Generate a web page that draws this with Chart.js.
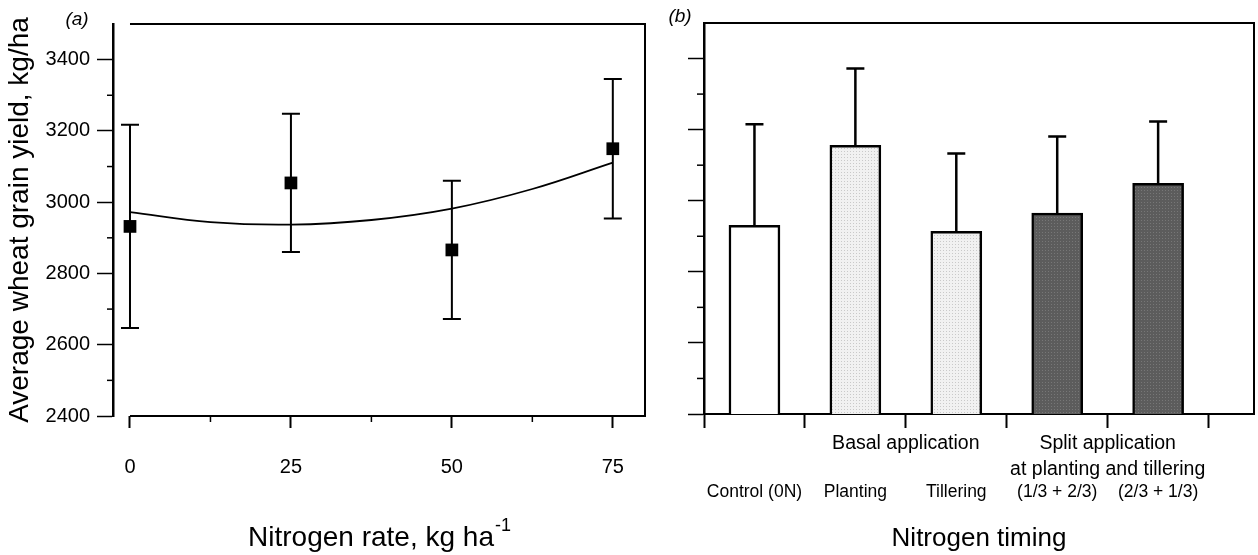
<!DOCTYPE html>
<html>
<head>
<meta charset="utf-8">
<script src="https://cdn.jsdelivr.net/npm/chart.js@4.4.0/dist/chart.umd.min.js"></script>
<style>
  html, body { margin: 0; padding: 0; background: #fff; }
  #wrap { position: relative; width: 1258px; height: 555px; }
  canvas { position: absolute; top: 0; }
  #rateChart { left: 0; }
  #timingChart { left: 660px; }
</style>
</head>
<body>
<div id="wrap">
  <canvas id="rateChart" width="660" height="555"></canvas>
  <canvas id="timingChart" width="598" height="555"></canvas>
</div>
<script>
// shared y axis
const yieldTicks = [2400, 2600, 2800, 3000, 3200, 3400];
const yieldMinorTicks = [2500, 2700, 2900, 3100, 3300];

// (a) grain yield vs nitrogen rate
const rates = [0, 25, 50, 75];
const rateYield = [2932, 3054, 2866, 3150];
const rateErr = [285, 194, 194, 196];
const fitRates = [0, 12.5, 25, 37.5, 50, 62.5, 75];
const fitYield = [2972, 2944, 2937, 2950, 2982, 3037, 3111];
const rateTicks = [0, 25, 50, 75];
const rateMinorTicks = [12.5, 37.5, 62.5];

// (b) grain yield vs nitrogen timing
const timingLabels = ['Control (0N)', 'Planting', 'Tillering', '(1/3 + 2/3)', '(2/3 + 1/3)'];
const timingYield = [2931, 3156, 2914, 2965, 3049];
const timingErr = [284, 216, 219, 216, 174];
const groupLabels = [['Basal application'], ['Split application', 'at planting and tillering']];
const groupCentres = [2.5, 4.5];

const FONT = "'Liberation Sans', Arial, Helvetica, sans-serif";
Chart.defaults.font.family = FONT;
Chart.defaults.color = '#000';

function drawMinorY(chart, len) {
  const { ctx, chartArea, scales: { y } } = chart;
  ctx.save();
  ctx.strokeStyle = '#000';
  ctx.lineWidth = 1.5;
  yieldMinorTicks.forEach(v => {
    const py = y.getPixelForValue(v);
    ctx.beginPath();
    ctx.moveTo(chartArea.left - len, py);
    ctx.lineTo(chartArea.left, py);
    ctx.stroke();
  });
  ctx.restore();
}

function dotPattern(bg, dot) {
  const c = document.createElement('canvas');
  c.width = 3; c.height = 3;
  const g = c.getContext('2d');
  g.fillStyle = bg; g.fillRect(0, 0, 3, 3);
  g.fillStyle = dot; g.fillRect(1, 1, 1, 1);
  return g.createPattern(c, 'repeat');
}

// keep tick-label padding from pushing the plot area in
function fixHeight(h) {
  return (s) => { s.height = h; s.paddingLeft = 0; s.paddingRight = 0; };
}

// ---------- panel (a) ----------
const rateExtras = {
  id: 'rateExtras',
  beforeDatasetsDraw(chart) {
    const { ctx, scales: { x, y } } = chart;
    ctx.save();
    ctx.strokeStyle = '#000';
    ctx.lineWidth = 2;
    rates.forEach((r, i) => {
      const px = x.getPixelForValue(r);
      const hi = y.getPixelForValue(rateYield[i] + rateErr[i]);
      const lo = y.getPixelForValue(rateYield[i] - rateErr[i]);
      ctx.beginPath();
      ctx.moveTo(px, hi); ctx.lineTo(px, lo);
      ctx.moveTo(px - 9, hi); ctx.lineTo(px + 9, hi);
      ctx.moveTo(px - 9, lo); ctx.lineTo(px + 9, lo);
      ctx.stroke();
    });
    ctx.restore();
  },
  afterDraw(chart) {
    const { ctx, chartArea: a, scales: { x } } = chart;
    const x0 = x.getPixelForValue(0);
    ctx.save();
    ctx.strokeStyle = '#000';
    ctx.lineWidth = 2;
    ctx.beginPath();
    ctx.moveTo(x0, a.top); ctx.lineTo(a.right, a.top);
    ctx.lineTo(a.right, a.bottom); ctx.lineTo(x0, a.bottom);
    ctx.stroke();
    ctx.lineWidth = 1.5;
    rateMinorTicks.forEach(v => {
      const px = x.getPixelForValue(v);
      ctx.beginPath(); ctx.moveTo(px, a.bottom); ctx.lineTo(px, a.bottom + 6); ctx.stroke();
    });
    ctx.restore();
    drawMinorY(chart, 6);

    ctx.save();
    ctx.fillStyle = '#000';
    ctx.textBaseline = 'middle';
    ctx.textAlign = 'left';
    const main = 'Nitrogen rate, kg ha';
    const sup = '-1';
    ctx.font = '28px ' + FONT;
    const w1 = ctx.measureText(main).width;
    ctx.font = '18px ' + FONT;
    const w2 = ctx.measureText(sup).width;
    const start = (a.left + a.right) / 2 - (w1 + w2) / 2;
    ctx.font = '28px ' + FONT;
    ctx.fillText(main, start, 538);
    ctx.font = '18px ' + FONT;
    ctx.fillText(sup, start + w1 + 1, 526);
    ctx.font = 'italic 19px ' + FONT;
    ctx.textAlign = 'center';
    ctx.fillText('(a)', 77, 20);
    ctx.restore();
  }
};

new Chart(document.getElementById('rateChart').getContext('2d'), {
  type: 'scatter',
  data: {
    datasets: [
      {
        data: fitRates.map((r, i) => ({ x: r, y: fitYield[i] })),
        showLine: true,
        borderColor: '#000',
        borderWidth: 1.8,
        pointRadius: 0,
        tension: 0.4
      },
      {
        data: rates.map((r, i) => ({ x: r, y: rateYield[i] })),
        pointStyle: 'rect',
        pointRadius: 9,
        backgroundColor: '#000',
        borderWidth: 0
      }
    ]
  },
  options: {
    responsive: false,
    animation: false,
    events: [],
    layout: { padding: { top: 24, right: 15, bottom: 0, left: 0 } },
    plugins: { legend: { display: false }, tooltip: { enabled: false } },
    scales: {
      x: {
        type: 'linear',
        min: -2.64,
        max: 80,
        afterBuildTicks: (s) => { s.ticks = rateTicks.map(v => ({ value: v })); },
        afterFit: fixHeight(139),
        grid: { drawOnChartArea: false, tickLength: 12, tickWidth: 2, tickColor: '#000' },
        border: { display: false },
        ticks: { font: { size: 20 }, padding: 27, maxRotation: 0, autoSkip: false }
      },
      y: {
        min: 2400,
        max: 3500,
        afterBuildTicks: (s) => { s.ticks = yieldTicks.map(v => ({ value: v })); },
        afterFit: (s) => { s.width = 113; },
        grid: { drawOnChartArea: false, tickLength: 16, tickWidth: 1.5, tickColor: '#000' },
        border: { display: true, color: '#000', width: 2.5 },
        ticks: { font: { size: 20 }, padding: 7, callback: (v) => String(v) },
        title: {
          display: true,
          text: 'Average wheat grain yield, kg/ha',
          font: { size: 28 },
          padding: { top: 3, bottom: 0 }
        }
      }
    }
  },
  plugins: [rateExtras]
});

// ---------- panel (b) ----------
const timingCtx = document.getElementById('timingChart').getContext('2d');
const lightFill = dotPattern('#f1f1f1', '#c9c9c9');
const darkFill = dotPattern('#5c5c5c', '#777777');
const barFills = ['#ffffff', lightFill, lightFill, darkFill, darkFill];

const timingExtras = {
  id: 'timingExtras',
  afterDatasetsDraw(chart) {
    const { ctx, scales: { x, y } } = chart;
    ctx.save();
    ctx.strokeStyle = '#000';
    ctx.lineWidth = 2.5;
    timingYield.forEach((v, i) => {
      const px = x.getPixelForValue(i + 1);
      const top = y.getPixelForValue(v);
      const hi = y.getPixelForValue(v + timingErr[i]);
      ctx.beginPath();
      ctx.moveTo(px, top); ctx.lineTo(px, hi);
      ctx.moveTo(px - 9, hi); ctx.lineTo(px + 9, hi);
      ctx.stroke();
    });
    ctx.restore();
  },
  afterDraw(chart) {
    const { ctx, chartArea: a, scales: { x } } = chart;
    ctx.save();
    ctx.strokeStyle = '#000';
    ctx.lineWidth = 2;
    ctx.beginPath();
    ctx.moveTo(a.left, a.top); ctx.lineTo(a.right, a.top); ctx.lineTo(a.right, a.bottom);
    ctx.stroke();
    ctx.restore();
    drawMinorY(chart, 7);

    ctx.save();
    ctx.fillStyle = '#000';
    ctx.textAlign = 'center';
    ctx.textBaseline = 'middle';
    ctx.font = '19.5px ' + FONT;
    groupLabels.forEach((lines, g) => {
      const px = x.getPixelForValue(groupCentres[g]);
      lines.forEach((t, k) => ctx.fillText(t, px, a.bottom + 30 + k * 26));
    });
    ctx.font = 'italic 19px ' + FONT;
    ctx.fillText('(b)', 20, 17);
    ctx.restore();
  }
};

const boundaryTicks = timingLabels.map((_, i) => i + 0.5).concat([timingLabels.length + 0.5]);
const centreTicks = timingLabels.map((_, i) => i + 1);

new Chart(timingCtx, {
  type: 'bar',
  data: {
    datasets: [{
      data: timingYield.map((v, i) => ({ x: i + 1, y: [2400, v] })),
      backgroundColor: barFills,
      borderColor: '#000',
      borderWidth: 2.5,
      borderSkipped: 'start',
      barThickness: 51
    }]
  },
  options: {
    responsive: false,
    animation: false,
    events: [],
    layout: { padding: { top: 23, right: 4, bottom: 0, left: 0 } },
    plugins: { legend: { display: false }, tooltip: { enabled: false } },
    scales: {
      x: {
        type: 'linear',
        min: 0.5,
        max: 5.95,
        offset: false,
        afterBuildTicks: (s) => {
          s.ticks = boundaryTicks.concat(centreTicks).sort((p, q) => p - q).map(v => ({ value: v }));
        },
        afterFit: fixHeight(141),
        grid: {
          offset: false,
          drawOnChartArea: false,
          tickLength: 14,
          tickWidth: 2,
          tickColor: (c) => (Number.isInteger(c.tick.value) ? 'rgba(0,0,0,0)' : '#000')
        },
        border: { display: true, color: '#000', width: 2 },
        ticks: {
          font: { size: 17.5 },
          padding: 54,
          maxRotation: 0,
          autoSkip: false,
          callback: (v) => (Number.isInteger(v) ? timingLabels[v - 1] : '')
        },
        title: {
          display: true,
          text: 'Nitrogen timing',
          font: { size: 26 },
          padding: { top: 0, bottom: 1 }
        }
      },
      y: {
        min: 2400,
        max: 3500,
        afterBuildTicks: (s) => { s.ticks = yieldTicks.map(v => ({ value: v })); },
        afterFit: (s) => { s.width = 44; },
        grid: { drawOnChartArea: false, tickLength: 16, tickWidth: 1.5, tickColor: '#000' },
        border: { display: true, color: '#000', width: 2.5 },
        ticks: { display: false }
      }
    }
  },
  plugins: [timingExtras]
});
</script>
</body>
</html>
